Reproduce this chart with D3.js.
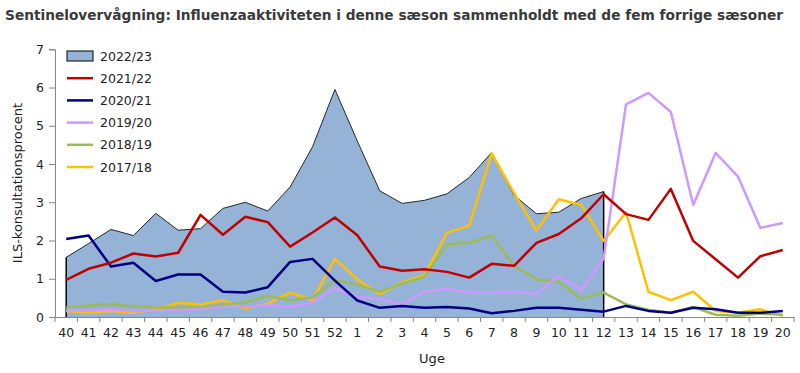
<!DOCTYPE html>
<html>
<head>
<meta charset="utf-8">
<script src="https://cdn.jsdelivr.net/npm/d3@7"></script>
<style>
  body { margin: 0; background: #fff; }
  text { font-family: "DejaVu Sans", sans-serif; }
</style>
</head>
<body>
<div id="chart"></div>
<script>
// uger fra uge 40 til uge 20
var weeks = ['40','41','42','43','44','45','46','47','48','49','50','51','52',
             '1','2','3','4','5','6','7','8','9','10','11','12','13','14','15','16','17','18','19','20'];

// indevaerende saeson (kun til uge 12)
var s2223 = [1.56, 1.92, 2.29, 2.13, 2.71, 2.27, 2.31, 2.84, 3.0, 2.77, 3.4, 4.45, 5.95,
             4.6, 3.3, 2.97, 3.05, 3.22, 3.65, 4.3, 3.18, 2.7, 2.74, 3.1, 3.28];

var s2122 = [0.97, 1.26, 1.42, 1.66, 1.58, 1.68, 2.67, 2.15, 2.62, 2.48, 1.84, 2.21, 2.6,
             2.14, 1.32, 1.21, 1.25, 1.18, 1.03, 1.39, 1.34, 1.94, 2.17, 2.58, 3.21,
             2.69, 2.54, 3.35, 1.99, 1.51, 1.03, 1.59, 1.75];
var s2021 = [2.04, 2.13, 1.32, 1.42, 0.94, 1.11, 1.11, 0.66, 0.64, 0.78, 1.44, 1.52, 0.95,
             0.43, 0.24, 0.29, 0.24, 0.26, 0.22, 0.10, 0.16, 0.24, 0.24, 0.19, 0.14,
             0.29, 0.16, 0.11, 0.24, 0.20, 0.11, 0.11, 0.16];
var s1920 = [0.18, 0.17, 0.2, 0.15, 0.17, 0.18, 0.2, 0.27, 0.27, 0.31, 0.27, 0.37, 0.75,
             0.53, 0.47, 0.33, 0.66, 0.73, 0.64, 0.64, 0.66, 0.60, 1.07, 0.71, 1.53,
             5.56, 5.86, 5.36, 2.93, 4.29, 3.67, 2.33, 2.46];
var s1819 = [0.25, 0.3, 0.33, 0.28, 0.25, 0.25, 0.25, 0.32, 0.38, 0.55, 0.44, 0.51, 0.97,
             0.84, 0.66, 0.88, 1.05, 1.90, 1.94, 2.13, 1.34, 0.99, 0.92, 0.48, 0.64,
             0.33, 0.19, 0.11, 0.26, 0.06, 0.03, 0.09, 0.06];
var s1718 = [0.16, 0.11, 0.16, 0.11, 0.20, 0.37, 0.33, 0.44, 0.22, 0.35, 0.64, 0.44, 1.52,
             0.98, 0.60, 0.91, 1.09, 2.20, 2.39, 4.28, 3.24, 2.26, 3.08, 2.93, 1.99,
             2.74, 0.66, 0.44, 0.66, 0.16, 0.11, 0.20, 0.03];

var yTicks = [0, 1, 2, 3, 4, 5, 6, 7];

var lineSeries = [
  { name: '2021/22', values: s2122, color: '#c00000' },
  { name: '2020/21', values: s2021, color: '#000080' },
  { name: '2019/20', values: s1920, color: '#cc99ff' },
  { name: '2018/19', values: s1819, color: '#9bbb59' },
  { name: '2017/18', values: s1718, color: '#ffc000' }
];

var width = 800, height = 373;
var svg = d3.select('#chart').append('svg')
            .attr('width', width)
            .attr('height', height);

var x = d3.scaleBand().domain(weeks).range([55, 794]).padding(0);
var y = d3.scaleLinear().domain([0, 7]).range([317, 49.3]);
var cx = function(i) { return x(weeks[i]) + x.bandwidth() / 2; };

// titel
svg.append('text')
   .attr('x', 5).attr('y', 20)
   .attr('textLength', 778).attr('lengthAdjust', 'spacingAndGlyphs')
   .style('font-size', '14px').style('font-weight', 'bold')
   .attr('fill', '#3a3a3a')
   .text('Sentineloverv\u00e5gning: Influenzaaktiviteten i denne s\u00e6son sammenholdt med de fem forrige s\u00e6soner');

// areal for 2022/23
var area = d3.area()
  .x(function(d, i) { return cx(i); })
  .y0(y(0))
  .y1(function(d) { return y(d); });

svg.append('path')
   .datum(s2223)
   .attr('d', area)
   .attr('fill', '#95b3d7')
   .attr('stroke', 'none');

svg.append('path')
   .datum(s2223)
   .attr('d', d3.line().x(function(d, i) { return cx(i); }).y(function(d) { return y(d); }))
   .attr('fill', 'none')
   .attr('stroke', '#262626')
   .attr('stroke-width', 1);

// lodrette kanter
[0, s2223.length - 1].forEach(function(i) {
  svg.append('line')
     .attr('x1', cx(i)).attr('x2', cx(i))
     .attr('y1', y(0)).attr('y2', y(s2223[i]))
     .attr('stroke', '#000').attr('stroke-width', 1.5);
});

// linjer, tegnet bagfra
var line = d3.line()
  .x(function(d, i) { return cx(i); })
  .y(function(d) { return y(d); });

lineSeries.slice().reverse().forEach(function(s) {
  svg.append('path')
     .datum(s.values)
     .attr('d', line)
     .attr('fill', 'none')
     .attr('stroke', s.color)
     .attr('stroke-width', 2.5)
     .attr('stroke-linejoin', 'round');
});

// y-akse
var yAxis = svg.append('g')
  .attr('transform', 'translate(55,0)')
  .call(d3.axisLeft(y).tickValues(yTicks).tickSize(6).tickPadding(5).tickFormat(d3.format('d')));
yAxis.select('.domain').attr('stroke', '#868686');
yAxis.selectAll('.tick line').attr('stroke', '#868686');
yAxis.selectAll('.tick text').style('font-size', '12.5px').attr('fill', '#222');

// x-akse
var xAxis = svg.append('g')
  .attr('transform', 'translate(0,317)')
  .call(d3.axisBottom(x).tickSize(0).tickPadding(11));
xAxis.select('.domain').attr('stroke', '#868686');
xAxis.selectAll('.tick text').style('font-size', '12.5px').attr('fill', '#222');

// tick-streger mellem kategorierne
svg.append('g').selectAll('line')
   .data(weeks.concat(['end']))
   .enter().append('line')
   .attr('x1', function(d, i) { return i < weeks.length ? x(d) : x.range()[1]; })
   .attr('x2', function(d, i) { return i < weeks.length ? x(d) : x.range()[1]; })
   .attr('y1', 317).attr('y2', 322)
   .attr('stroke', '#868686');

// aksetitler
svg.append('text')
   .attr('x', 432).attr('y', 363)
   .attr('text-anchor', 'middle')
   .style('font-size', '13px').attr('fill', '#222')
   .text('Uge');

svg.append('text')
   .attr('transform', 'translate(22,183) rotate(-90)')
   .attr('text-anchor', 'middle')
   .style('font-size', '13px').attr('fill', '#222')
   .text('ILS-konsultationsprocent');

// legende
var legend = svg.append('g');
var legendItems = [{ name: '2022/23', area: true }].concat(lineSeries);
legendItems.forEach(function(s, i) {
  var ly = 56 + i * 22.2;
  if (s.area) {
    legend.append('rect')
       .attr('x', 67).attr('y', ly - 5).attr('width', 26).attr('height', 10)
       .attr('fill', '#95b3d7').attr('stroke', '#000').attr('stroke-width', 1);
  } else {
    legend.append('line')
       .attr('x1', 67).attr('x2', 93).attr('y1', ly).attr('y2', ly)
       .attr('stroke', s.color).attr('stroke-width', 2.5);
  }
  legend.append('text')
     .attr('x', 100).attr('y', ly + 4.5)
     .style('font-size', '12.5px').attr('fill', '#222')
     .text(s.name);
});
</script>
</body>
</html>
